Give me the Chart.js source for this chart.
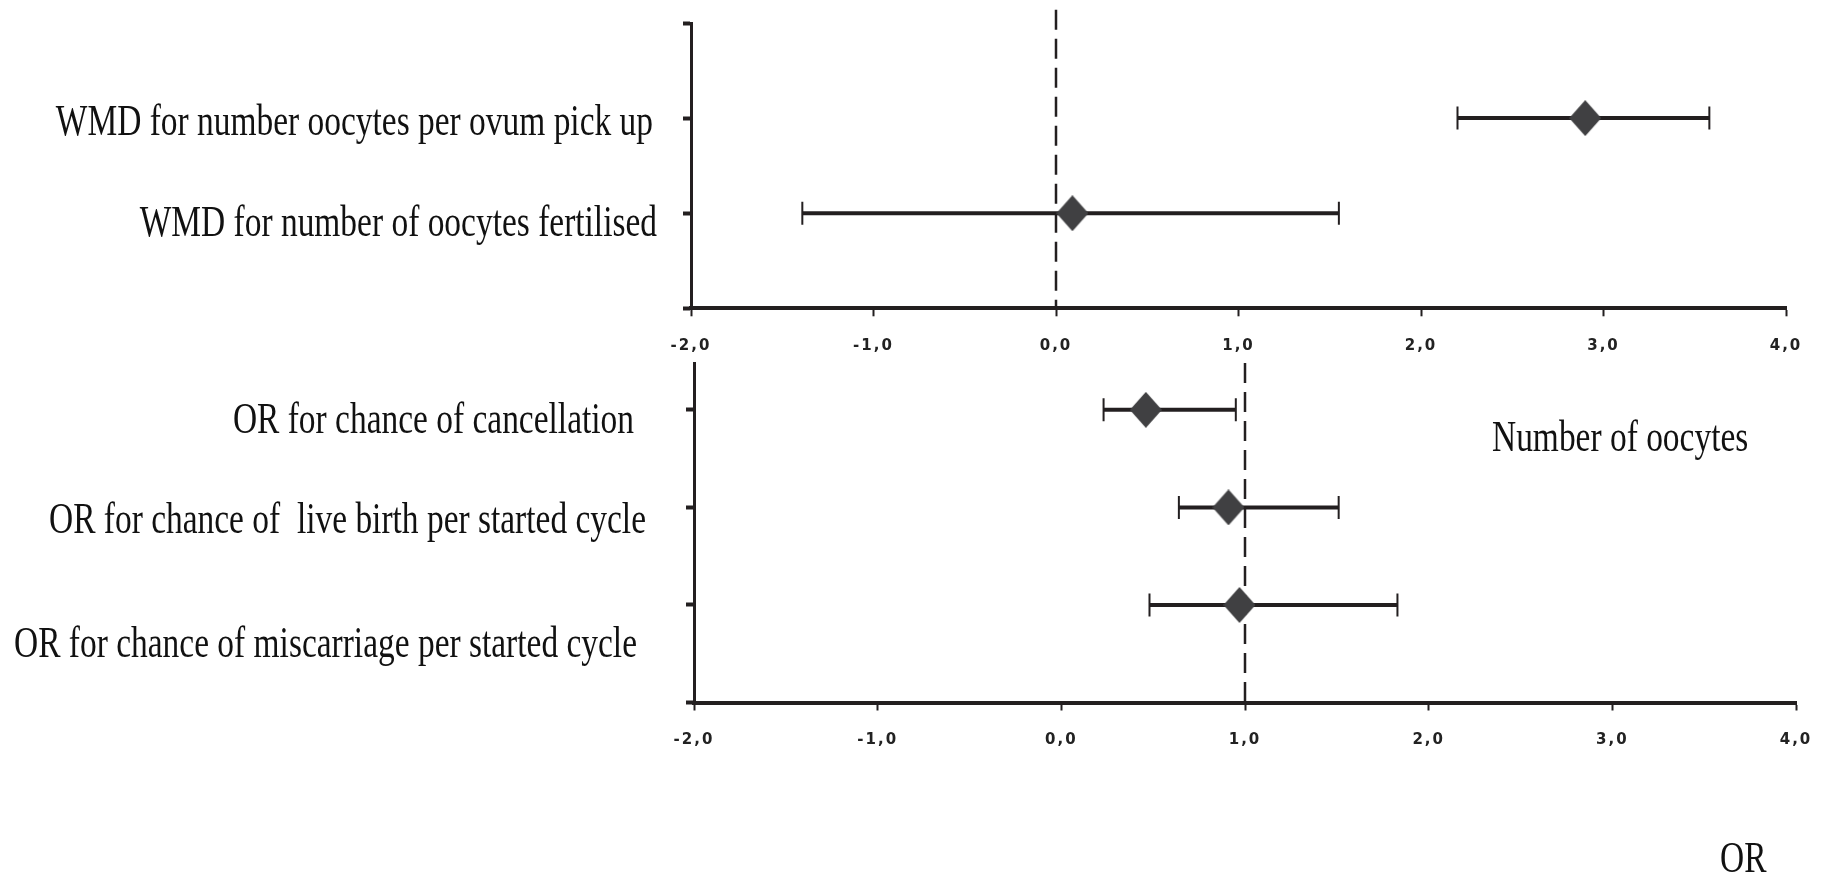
<!DOCTYPE html>
<html>
<head>
<meta charset="utf-8">
<script src="https://cdn.jsdelivr.net/npm/chart.js@4.4.1/dist/chart.umd.min.js"></script>
<style>
	html, body { margin: 0; padding: 0; background: #fff; }
	body { width: 1828px; height: 875px; position: relative; overflow: hidden; }
	canvas { position: absolute; left: 0; }
	#topChart { top: 0; }
	#bottomChart { top: 340px; }
	.note {
		position: absolute;
		font-family: "Liberation Serif", "Times New Roman", serif;
		font-size: 44px;
		line-height: 44px;
		color: #111;
		white-space: nowrap;
		transform: scaleX(0.76);
		transform-origin: 0 0;
	}
</style>
</head>
<body>
<canvas id="topChart" width="1828" height="380"></canvas>
<canvas id="bottomChart" width="1828" height="535"></canvas>
<div class="note" style="left:1492px; top:415px;">Number of oocytes</div>
<div class="note" style="left:1720px; top:836px;">OR</div>
<script>
// shared x axis
const xTicks = [-2, -1, 0, 1, 2, 3, 4];
const xTickLabels = ["-2,0", "-1,0", "0,0", "1,0", "2,0", "3,0", "4,0"];

// top panel: weighted mean differences
const wmdLabels = [
	"WMD for number oocytes per ovum pick up",
	"WMD for number of oocytes fertilised"
];
const wmdRows = [2, 1];
const wmdYTicks = [0, 1, 2, 3];
const wmdEstimate = [2.90, 0.09];
const wmdLower = [2.20, -1.39];
const wmdUpper = [3.58, 1.55];
const wmdNoEffect = 0;

// bottom panel: odds ratios
const orLabels = [
	"OR for chance of cancellation",
	"OR for chance of  live birth per started cycle",
	"OR for chance of miscarriage per started cycle"
];
const orRows = [3, 2, 1];
const orYTicks = [0, 1, 2, 3];
const orEstimate = [0.46, 0.91, 0.97];
const orLower = [0.23, 0.64, 0.48];
const orUpper = [0.95, 1.51, 1.83];
const orNoEffect = 1;

// label placement (px): right edge and drop below the row tick
const wmdLabelRight = [653, 657];
const wmdLabelDrop = [17, 23];
const orLabelRight = [634, 646, 637];
const orLabelDrop = [23, 26, 52];

const ink = "#231f20";

function diamond(w, h, color) {
	const c = document.createElement("canvas");
	c.width = w;
	c.height = h;
	const g = c.getContext("2d");
	g.fillStyle = color;
	g.beginPath();
	g.moveTo(w / 2, 0);
	g.lineTo(w, h / 2);
	g.lineTo(w / 2, h);
	g.lineTo(0, h / 2);
	g.closePath();
	g.fill();
	return c;
}
const marker = diamond(32, 36, "#404042");

function forestDatasets(rows, est, lo, hi, ref, refTop) {
	const sets = [];
	sets.push({
		data: rows.map(function (r, i) { return { x: est[i], y: r }; }),
		showLine: false,
		pointStyle: marker,
		pointRadius: 16,
		order: 1
	});
	rows.forEach(function (r, i) {
		sets.push({
			data: [{ x: lo[i], y: r }, { x: hi[i], y: r }],
			showLine: true,
			borderColor: ink,
			borderWidth: 4,
			pointStyle: "line",
			pointRotation: 90,
			pointRadius: 11.5,
			pointBorderWidth: 2,
			pointBorderColor: ink,
			order: 2
		});
	});
	sets.push({
		data: [{ x: ref, y: refTop }, { x: ref, y: 0 }],
		showLine: true,
		borderColor: ink,
		borderWidth: 2.5,
		borderDash: [20, 9],
		pointRadius: 0,
		clip: false,
		order: 3
	});
	return sets;
}

function rowLabels(labels, rows, right, drop) {
	return {
		id: "rowLabels",
		afterDraw(chart) {
			const ctx = chart.ctx;
			const y = chart.scales.y;
			ctx.save();
			ctx.letterSpacing = "0px";
			ctx.font = '44px "Liberation Serif"';
			ctx.fillStyle = "#111";
			ctx.textAlign = "right";
			ctx.textBaseline = "alphabetic";
			labels.forEach(function (t, i) {
				ctx.save();
				ctx.translate(right[i], y.getPixelForValue(rows[i]) + drop[i]);
				ctx.scale(0.76, 1);
				ctx.fillText(t, 0, 0);
				ctx.restore();
			});
			ctx.restore();
		}
	};
}

const spacedTicks = {
	id: "spacedTicks",
	beforeDraw(chart) { chart.ctx.letterSpacing = "2px"; },
	afterDatasetsDraw(chart) { chart.ctx.letterSpacing = "0px"; }
};

function makeChart(id, opts) {
	const config = {
		type: "scatter",
		data: {
			datasets: forestDatasets(opts.rows, opts.est, opts.lo, opts.hi, opts.ref, opts.refTop)
		},
		options: {
			responsive: false,
			animation: false,
			events: [],
			layout: { padding: opts.padding },
			plugins: {
				legend: { display: false },
				tooltip: { enabled: false }
			},
			scales: {
				x: {
					type: "linear",
					min: -2,
					max: 4,
					afterBuildTicks: function (s) { s.ticks = xTicks.map(function (v) { return { value: v }; }); },
					afterFit: function (s) {
						s.height = opts.xHeight;
						s.paddingLeft = 0;
						s.paddingRight = 0;
					},
					ticks: {
						callback: function (v) { return xTickLabels[xTicks.indexOf(v)]; },
						font: { family: "DejaVu Sans", weight: "bold", size: 15 },
						color: "#222",
						padding: 21,
						maxRotation: 0,
						autoSkip: false
					},
					grid: { drawOnChartArea: false, drawTicks: true, tickLength: 8, tickWidth: 2, tickColor: ink },
					border: { display: true, width: 4, color: ink }
				},
				y: {
					type: "linear",
					min: 0,
					max: opts.yMax,
					afterBuildTicks: function (s) { s.ticks = opts.yTicks.map(function (v) { return { value: v }; }); },
					afterFit: function (s) { s.width = opts.yWidth; },
					ticks: { display: false },
					grid: { drawOnChartArea: false, drawTicks: true, tickLength: 8, tickWidth: 4, tickColor: ink },
					border: { display: true, width: 3, color: ink }
				}
			}
		},
		plugins: [spacedTicks, rowLabels(opts.labels, opts.rows, opts.labelRight, opts.labelDrop)]
	};
	return new Chart(document.getElementById(id).getContext("2d"), config);
}

makeChart("topChart", {
	rows: wmdRows, est: wmdEstimate, lo: wmdLower, hi: wmdUpper,
	ref: wmdNoEffect, refTop: 3.14, yMax: 3, yTicks: wmdYTicks,
	labels: wmdLabels, labelRight: wmdLabelRight, labelDrop: wmdLabelDrop,
	padding: { top: 23, right: 42, left: 0, bottom: 0 },
	yWidth: 691, xHeight: 71.7
});

makeChart("bottomChart", {
	rows: orRows, est: orEstimate, lo: orLower, hi: orUpper,
	ref: orNoEffect, refTop: 3.48, yMax: 3.48, yTicks: orYTicks,
	labels: orLabels, labelRight: orLabelRight, labelDrop: orLabelDrop,
	padding: { top: 23, right: 32, left: 0, bottom: 0 },
	yWidth: 694, xHeight: 172.5
});
</script>
</body>
</html>
